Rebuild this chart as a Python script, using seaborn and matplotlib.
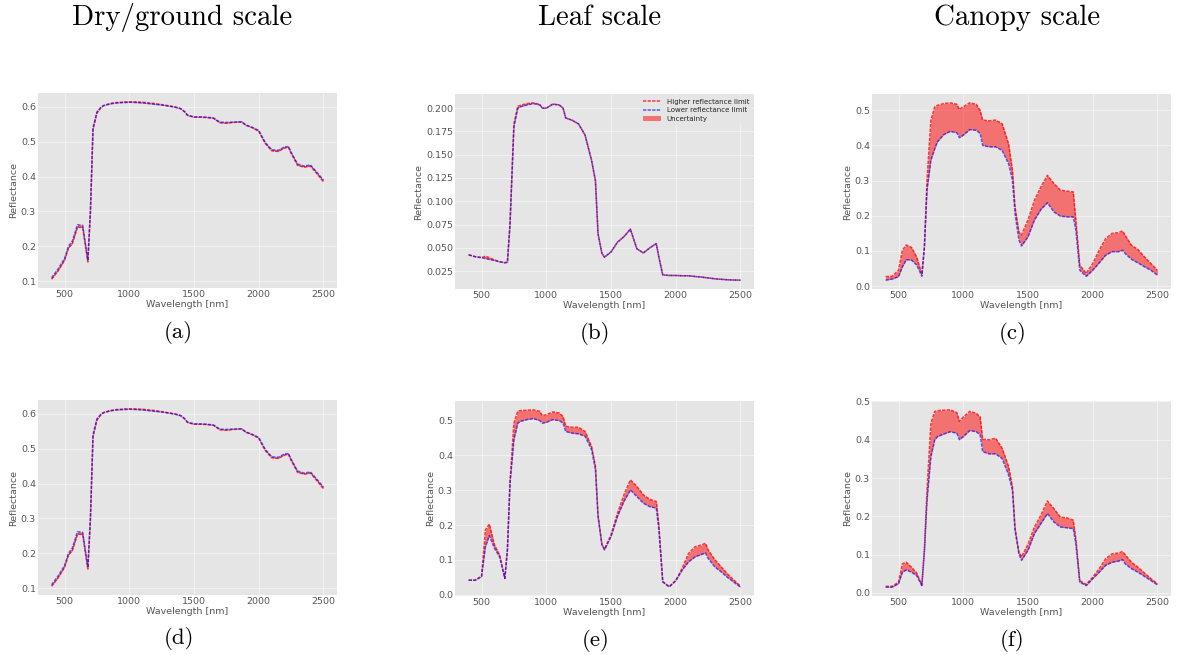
import matplotlib
matplotlib.use("Agg")
import matplotlib.pyplot as plt
import seaborn as sns
import pandas as pd

# ---------------- data ----------------
wavelength_nm = [400, 450, 500, 530, 560, 600, 640, 680, 700, 720,
                 750, 780, 800, 850, 900, 950, 970, 1000, 1050, 1100,
                 1130, 1150, 1200, 1250, 1300, 1350, 1380, 1400, 1430, 1450,
                 1500, 1550, 1600, 1650, 1700, 1750, 1800, 1850, 1870, 1900,
                 1950, 2000, 2050, 2100, 2150, 2200, 2230, 2250, 2300, 2350,
                 2400, 2450, 2500]

# (a) / (d) dry-ground scale
dry_lower = [0.110, 0.135, 0.165, 0.200, 0.215, 0.262, 0.260, 0.160, 0.300, 0.540,
             0.585, 0.598, 0.603, 0.608, 0.611, 0.612, 0.612, 0.613, 0.612, 0.611,
             0.610, 0.609, 0.607, 0.605, 0.602, 0.599, 0.596, 0.594, 0.585, 0.576,
             0.571, 0.571, 0.570, 0.568, 0.556, 0.555, 0.556, 0.557, 0.557, 0.548,
             0.541, 0.532, 0.498, 0.477, 0.475, 0.485, 0.486, 0.470, 0.436, 0.430,
             0.433, 0.412, 0.390]
dry_higher = [0.106, 0.130, 0.160, 0.195, 0.208, 0.255, 0.254, 0.155, 0.298, 0.535,
              0.582, 0.597, 0.603, 0.609, 0.612, 0.613, 0.614, 0.614, 0.614, 0.613,
              0.612, 0.611, 0.609, 0.606, 0.603, 0.600, 0.597, 0.594, 0.585, 0.575,
              0.570, 0.570, 0.569, 0.567, 0.554, 0.553, 0.555, 0.556, 0.556, 0.547,
              0.540, 0.530, 0.495, 0.474, 0.472, 0.482, 0.484, 0.467, 0.432, 0.427,
              0.430, 0.408, 0.385]

# (b) leaf scale, leaf
leaf_lower = [0.0425, 0.0405, 0.0395, 0.0385, 0.0375, 0.0365, 0.0350, 0.0340, 0.0345, 0.0750,
              0.1800, 0.2000, 0.2015, 0.2035, 0.2050, 0.2035, 0.2000, 0.2000, 0.2043, 0.2035,
              0.2000, 0.1895, 0.1870, 0.1830, 0.1710, 0.1440, 0.1220, 0.0650, 0.0440, 0.0400,
              0.0455, 0.0560, 0.0620, 0.0700, 0.0490, 0.0445, 0.0500, 0.0545, 0.0400, 0.0210,
              0.0203, 0.0203, 0.0200, 0.0200, 0.0192, 0.0186, 0.0180, 0.0177, 0.0168, 0.0162,
              0.0157, 0.0154, 0.0153]
leaf_higher = [0.0425, 0.0405, 0.0395, 0.0410, 0.0395, 0.0370, 0.0350, 0.0340, 0.0345, 0.0760,
               0.1830, 0.2020, 0.2030, 0.2050, 0.2057, 0.2040, 0.2000, 0.2000, 0.2043, 0.2035,
               0.2000, 0.1895, 0.1870, 0.1830, 0.1710, 0.1440, 0.1220, 0.0650, 0.0440, 0.0400,
               0.0455, 0.0560, 0.0620, 0.0700, 0.0490, 0.0445, 0.0500, 0.0545, 0.0400, 0.0210,
               0.0203, 0.0203, 0.0200, 0.0200, 0.0192, 0.0186, 0.0180, 0.0177, 0.0168, 0.0162,
               0.0157, 0.0154, 0.0153]

# (c) canopy scale, top row
canopy1_lower = [0.017, 0.020, 0.027, 0.055, 0.075, 0.074, 0.060, 0.028, 0.112, 0.273,
                 0.358, 0.391, 0.410, 0.431, 0.440, 0.436, 0.422, 0.429, 0.445, 0.443,
                 0.434, 0.400, 0.396, 0.396, 0.386, 0.348, 0.301, 0.206, 0.131, 0.114,
                 0.140, 0.188, 0.218, 0.237, 0.211, 0.199, 0.197, 0.197, 0.159, 0.045,
                 0.028, 0.045, 0.066, 0.088, 0.098, 0.098, 0.102, 0.093, 0.076, 0.066,
                 0.055, 0.045, 0.031]
canopy1_higher = [0.027, 0.028, 0.045, 0.102, 0.117, 0.110, 0.083, 0.033, 0.112, 0.301,
                  0.472, 0.510, 0.514, 0.519, 0.521, 0.517, 0.502, 0.510, 0.521, 0.517,
                  0.500, 0.472, 0.470, 0.472, 0.462, 0.405, 0.330, 0.225, 0.154, 0.145,
                  0.188, 0.244, 0.282, 0.315, 0.292, 0.273, 0.270, 0.268, 0.187, 0.060,
                  0.036, 0.064, 0.102, 0.135, 0.150, 0.152, 0.157, 0.145, 0.116, 0.104,
                  0.083, 0.064, 0.045]

# (e) leaf scale, bottom row
leaf2_lower = [0.042, 0.042, 0.052, 0.138, 0.170, 0.133, 0.109, 0.047, 0.129, 0.320,
               0.445, 0.493, 0.498, 0.503, 0.506, 0.500, 0.493, 0.495, 0.503, 0.500,
               0.493, 0.469, 0.464, 0.462, 0.455, 0.417, 0.359, 0.225, 0.143, 0.129,
               0.167, 0.225, 0.268, 0.301, 0.282, 0.263, 0.253, 0.249, 0.186, 0.037,
               0.023, 0.040, 0.071, 0.095, 0.109, 0.116, 0.120, 0.105, 0.081, 0.066,
               0.050, 0.036, 0.022]
leaf2_higher = [0.042, 0.042, 0.053, 0.186, 0.203, 0.143, 0.114, 0.047, 0.129, 0.325,
                0.493, 0.527, 0.529, 0.530, 0.531, 0.527, 0.514, 0.517, 0.525, 0.522,
                0.512, 0.484, 0.481, 0.481, 0.469, 0.426, 0.369, 0.228, 0.145, 0.131,
                0.172, 0.234, 0.287, 0.330, 0.311, 0.287, 0.274, 0.268, 0.200, 0.038,
                0.023, 0.041, 0.076, 0.119, 0.138, 0.143, 0.148, 0.129, 0.102, 0.081,
                0.060, 0.042, 0.025]

# (f) canopy scale, bottom row
canopy2_lower = [0.015, 0.015, 0.024, 0.054, 0.060, 0.054, 0.045, 0.019, 0.111, 0.242,
                 0.356, 0.400, 0.408, 0.415, 0.421, 0.417, 0.400, 0.408, 0.424, 0.421,
                 0.413, 0.369, 0.363, 0.363, 0.351, 0.308, 0.268, 0.163, 0.102, 0.085,
                 0.111, 0.155, 0.181, 0.207, 0.185, 0.172, 0.170, 0.168, 0.128, 0.028,
                 0.019, 0.037, 0.054, 0.072, 0.080, 0.083, 0.087, 0.076, 0.063, 0.054,
                 0.043, 0.032, 0.021]
canopy2_higher = [0.017, 0.017, 0.028, 0.076, 0.080, 0.067, 0.052, 0.020, 0.112, 0.268,
                  0.443, 0.474, 0.476, 0.477, 0.478, 0.471, 0.448, 0.459, 0.474, 0.469,
                  0.460, 0.401, 0.400, 0.404, 0.378, 0.330, 0.277, 0.170, 0.106, 0.094,
                  0.127, 0.172, 0.203, 0.240, 0.220, 0.198, 0.196, 0.190, 0.140, 0.032,
                  0.022, 0.041, 0.063, 0.089, 0.102, 0.104, 0.108, 0.100, 0.080, 0.067,
                  0.052, 0.037, 0.024]

column_titles = ["Dry/ground scale", "Leaf scale", "Canopy scale"]
panel_labels = ["(a)", "(b)", "(c)", "(d)", "(e)", "(f)"]
legend_labels = ["Higher reflectance limit", "Lower reflectance limit", "Uncertainty"]

# ---------------- style ----------------
sns.set_theme(style="darkgrid", rc={
    "axes.facecolor": "#E5E5E5",
    "grid.color": "#F4F4F4",
    "grid.linewidth": 0.6,
    "axes.edgecolor": "#E5E5E5",
    "xtick.color": "#555555",
    "ytick.color": "#555555",
    "axes.labelcolor": "#555555",
    "xtick.labelsize": 6.8,
    "ytick.labelsize": 6.8,
    "axes.labelsize": 6.8,
    "xtick.major.pad": 1.5,
    "ytick.major.pad": 1.5,
})
plt.rcParams["font.family"] = ["DejaVu Sans"]

W, H = 1177, 655
fig = plt.figure(figsize=(W / 100, H / 100), dpi=100)

panels = [
    (dry_lower, dry_higher, (38, 93), False),
    (leaf_lower, leaf_higher, (455, 94), True),
    (canopy1_lower, canopy1_higher, (872, 94), False),
    (dry_lower, dry_higher, (38, 400), False),
    (leaf2_lower, leaf2_higher, (455, 401), False),
    (canopy2_lower, canopy2_higher, (872, 401), False),
]
aw, ah = 299, 195

for i, (lo, hi, (px, py), show_leg) in enumerate(panels):
    ax = fig.add_axes([px / W, 1 - (py + ah) / H, aw / W, ah / H])
    df = pd.DataFrame({"wl": wavelength_nm, "lo": lo, "hi": hi})
    ax.fill_between(df["wl"], df["lo"], df["hi"], color="red", alpha=0.5,
                    linewidth=0, label=legend_labels[2])
    sns.lineplot(data=df, x="wl", y="hi", ax=ax, color="red", alpha=0.75,
                 dashes=False, linewidth=1.1, label=legend_labels[0])
    sns.lineplot(data=df, x="wl", y="lo", ax=ax, color="blue", alpha=0.6,
                 dashes=False, linewidth=1.1, label=legend_labels[1])
    for ln in ax.get_lines():
        ln.set_dashes((2.2, 0.8))
    ax.set_xticks([500, 1000, 1500, 2000, 2500])
    ax.set_xlabel("Wavelength [nm]", labelpad=0.5)
    ax.set_ylabel("Reflectance", labelpad=2)
    ax.tick_params(length=0)
    for s in ax.spines.values():
        s.set_visible(False)
    if show_leg:
        h, l = ax.get_legend_handles_labels()
        order = [l.index(t) for t in legend_labels]
        ax.legend([h[k] for k in order], [l[k] for k in order], loc="upper right",
                  fontsize=5.0, frameon=True, facecolor="#E5E5E5", edgecolor="none",
                  handlelength=2.6, borderaxespad=0.3, labelspacing=0.35)
    else:
        ax.get_legend().remove()
    # panel label below
    fig.text((px + aw / 2 - 9) / W, 1 - (py + 239) / H, panel_labels[i],
             family="cmr10", fontsize=16.5, ha="center", va="center", color="black")

for j, t in enumerate(column_titles):
    cx = [182, 600, 1017][j]
    fig.text(cx / W, 1 - 18 / H, t, family="cmr10", fontsize=20.8,
             ha="center", va="center", color="black")

fig.savefig("out.png", dpi=100, facecolor="white")
